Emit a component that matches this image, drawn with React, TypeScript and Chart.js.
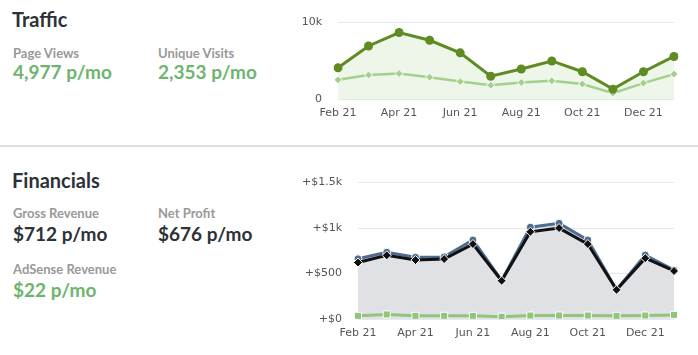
import React, { useEffect, useRef } from "react";
import { Chart, registerables } from "chart.js";

Chart.register(...registerables);

const months = ["Feb 21", "Mar 21", "Apr 21", "May 21", "Jun 21", "Jul 21", "Aug 21", "Sep 21", "Oct 21", "Nov 21", "Dec 21", "Jan 22"];
const pageViews = [4080, 6940, 8700, 7690, 6040, 2980, 3920, 4980, 3570, 1290, 3570, 5570];
const uniqueVisits = [2510, 3140, 3330, 2860, 2280, 1800, 2160, 2390, 1960, 750, 2080, 3260];
const grossRevenue = [662, 734, 679, 683, 869, 424, 1010, 1052, 869, 321, 703, 538];
const netProfit = [621, 700, 648, 659, 824, 421, 959, 1000, 824, 321, 669, 528];
const adsenseRevenue = [35, 50, 35, 35, 35, 25, 38, 38, 38, 35, 38, 45];
const trafficTicks = [0, 10000];
const financeTicks = [0, 500, 1000, 1500];

const tickFont = { family: "DejaVu Sans", size: 11 };
const tickColor = "#555";

function xScale() {
  return {
    offset: false,
    grid: { display: false, drawTicks: false },
    border: { display: false },
    ticks: {
      autoSkip: false,
      maxRotation: 0,
      padding: 8,
      color: tickColor,
      font: tickFont,
      callback: (_v: any, i: number) => (i % 2 === 0 ? months[i] : ""),
    },
  };
}

function TrafficChart() {
  const ref = useRef<HTMLCanvasElement>(null);
  useEffect(() => {
    const chart = new Chart(ref.current!, {
      type: "line",
      data: {
        labels: months,
        datasets: [
          {
            data: uniqueVisits,
            borderColor: "#a4cf8e",
            backgroundColor: "#a4cf8e",
            borderWidth: 2.5,
            pointStyle: "rectRot",
            pointRadius: 4,
            pointBorderColor: "#fff",
            pointBorderWidth: 1,
            pointBackgroundColor: "#a4cf8e",
            tension: 0,
            fill: false,
            order: 2,
          },
          {
            data: pageViews,
            borderColor: "#5f8b23",
            backgroundColor: "#5f8b23",
            borderWidth: 3,
            pointRadius: 4.5,
            pointBorderWidth: 0,
            pointBackgroundColor: "#5f8b23",
            tension: 0,
            fill: { target: "origin", above: "#eef5e9" },
            order: 1,
          },
        ],
      },
      options: {
        responsive: false,
        animation: false,
        layout: { padding: { top: 14, right: 24, bottom: 0, left: 0 } },
        plugins: {
          legend: { display: false },
          tooltip: { enabled: false },
          filler: { drawTime: "beforeDatasetsDraw" },
        } as any,
        scales: {
          x: { ...xScale(), afterFit: (s: any) => { s.height = 26; } } as any,
          y: {
            min: 0,
            max: 10000,
            afterBuildTicks: (s: any) => { s.ticks = trafficTicks.map((v) => ({ value: v })); },
            afterFit: (s: any) => { s.width = 48; },
            grid: { color: "#e6e9ec", drawTicks: false },
            border: { display: false },
            ticks: {
              padding: 16,
              color: tickColor,
              font: tickFont,
              callback: (v: any) => (v === 0 ? "0" : v / 1000 + "k"),
            },
          } as any,
        },
      },
    });
    return () => chart.destroy();
  }, []);
  return <canvas ref={ref} width={408} height={125} style={{ display: "block" }} />;
}

function FinanceChart() {
  const ref = useRef<HTMLCanvasElement>(null);
  useEffect(() => {
    const chart = new Chart(ref.current!, {
      type: "line",
      data: {
        labels: months,
        datasets: [
          {
            data: netProfit,
            borderColor: "#111",
            backgroundColor: "#111",
            borderWidth: 3,
            pointStyle: "rectRot",
            pointRadius: 4.5,
            pointBorderColor: "#fff",
            pointBorderWidth: 1,
            pointBackgroundColor: "#111",
            tension: 0,
            fill: false,
            order: 1,
          },
          {
            data: grossRevenue,
            borderColor: "#4d6c8e",
            backgroundColor: "#4d6c8e",
            borderWidth: 3,
            pointRadius: 4,
            pointBorderColor: "#fff",
            pointBorderWidth: 1,
            pointBackgroundColor: "#4d6c8e",
            tension: 0,
            fill: { target: "origin", above: "#dfe1e4" },
            order: 2,
          },
          {
            data: adsenseRevenue,
            borderColor: "#93c47d",
            backgroundColor: "#93c47d",
            borderWidth: 3,
            pointStyle: "rect",
            pointRadius: 5,
            pointBorderColor: "#fff",
            pointBorderWidth: 1,
            pointBackgroundColor: "#93c47d",
            tension: 0,
            fill: false,
            order: 0,
          },
        ],
      },
      options: {
        responsive: false,
        animation: false,
        layout: { padding: { top: 15, right: 24, bottom: 0, left: 0 } },
        plugins: {
          legend: { display: false },
          tooltip: { enabled: false },
          filler: { drawTime: "beforeDatasetsDraw" },
        } as any,
        scales: {
          x: { ...xScale(), afterFit: (s: any) => { s.height = 36; } } as any,
          y: {
            min: 0,
            max: 1500,
            afterBuildTicks: (s: any) => { s.ticks = financeTicks.map((v) => ({ value: v })); },
            afterFit: (s: any) => { s.width = 68; },
            grid: { color: "#e6e9ec", drawTicks: false },
            border: { display: false },
            ticks: {
              padding: 16,
              color: tickColor,
              font: tickFont,
              callback: (v: any) => (v >= 1000 ? "+$" + v / 1000 + "k" : "+$" + v),
            },
          } as any,
        },
      },
    });
    return () => chart.destroy();
  }, []);
  return <canvas ref={ref} width={408} height={195} style={{ display: "block" }} />;
}

const font = "Lato, 'Noto Sans', sans-serif";
const green = "#6db56f";
const dark = "#2d3237";
const gray = "#999";

function T({ x, y, size, color, weight, children }: any) {
  return (
    <div
      style={{
        position: "absolute",
        left: x,
        top: y,
        fontSize: size,
        lineHeight: 1,
        color,
        fontWeight: weight,
        fontFamily: font,
        whiteSpace: "nowrap",
      }}
    >
      {children}
    </div>
  );
}

export default function App() {
  return (
    <div style={{ position: "fixed", left: 0, top: 0, width: 698, height: 355, background: "#fff", overflow: "hidden" }}>
      <T x={12} y={9} size={20} color={dark} weight={700}>Traffic</T>
      <T x={13} y={47} size={13} color={gray} weight={700}>Page Views</T>
      <T x={13} y={61.5} size={19} color={green} weight={700}>4,977 p/mo</T>
      <T x={158} y={47} size={13} color={gray} weight={700}>Unique Visits</T>
      <T x={158} y={61.5} size={19} color={green} weight={700}>2,353 p/mo</T>
      <div style={{ position: "absolute", left: 290, top: 0 }}>
        <TrafficChart />
      </div>
      <div style={{ position: "absolute", left: 0, top: 145, width: 698, height: 2, background: "#dedede" }} />
      <T x={12} y={170} size={20} color={dark} weight={700}>Financials</T>
      <T x={13} y={207} size={13} color={gray} weight={700}>Gross Revenue</T>
      <T x={13} y={223.5} size={19} color={dark} weight={700}>$712 p/mo</T>
      <T x={158} y={207} size={13} color={gray} weight={700}>Net Profit</T>
      <T x={158} y={223.5} size={19} color={dark} weight={700}>$676 p/mo</T>
      <T x={13} y={263} size={13} color={gray} weight={700}>AdSense Revenue</T>
      <T x={13} y={280} size={19} color={green} weight={700}>$22 p/mo</T>
      <div style={{ position: "absolute", left: 290, top: 160 }}>
        <FinanceChart />
      </div>
    </div>
  );
}
